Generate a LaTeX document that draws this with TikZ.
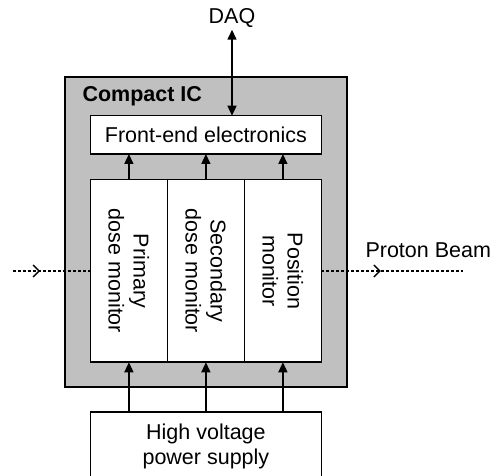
\documentclass[tikz,border=0pt]{standalone}
\usepackage{fontspec}
\setmainfont{Liberation Sans}
\usetikzlibrary{arrows.meta,positioning,decorations.markings}
\definecolor{icgray}{RGB}{192,192,192}

\begin{document}
\begin{tikzpicture}[x=1pt, y=-1pt, font=\fontsize{21.5}{25}\selectfont,
  box/.style={draw, line width=1.6pt, fill=white, align=center, inner sep=0pt, outer sep=0pt},
  mon/.style={box, minimum width=77pt, minimum height=182.6pt},
  arr/.style={-{Triangle[length=10pt, width=9pt]}, line width=1.5pt},
  dblarr/.style={{Triangle[length=10pt, width=9pt]}-{Triangle[length=10pt, width=9pt]}, line width=1.5pt},
  beam/.style={line width=1.2pt, dash pattern=on 3pt off 2pt, postaction={decorate},
    decoration={markings, mark=at position #1 with {\arrow[solid, line width=1.4pt]{Straight Barb[length=6pt, width=12pt]}}}}]
\useasboundingbox (0,0) rectangle (491,476);
% chamber housing
\node[box, fill=icgray, minimum width=282pt, minimum height=310pt] (ic) at (206,232) {};
\node[anchor=west, font=\fontsize{21.5}{25}\selectfont\bfseries] (title) at (79,96) {Compact IC};
% monitors
\node[mon] (prim) at (128.9,271) {};
\node[mon, right=0pt of prim] (sec) {};
\node[mon, right=0pt of sec] (pos) {};
\node[rotate=-90, align=center] (primtxt) at (prim) {Primary\\dose monitor};
\node[rotate=-90, align=center] (sectxt) at (sec) {Secondary\\dose monitor};
\node[rotate=-90, align=center] (postxt) at (pos) {Position\\monitor};
% electronics and supply
\node[box, minimum width=231pt, minimum height=38.3pt, above=25.7pt of sec] (fe) {Front-end electronics};
\node[box, minimum width=231pt, minimum height=68pt, below=50pt of sec] (hv) {High voltage\\power supply};
\node[inner sep=2pt] (daq) at (232,18) {DAQ};
\node[anchor=base west] (beamlbl) at (362,257.5) {Proton Beam};
\coordinate (beamin) at (13,271);
\coordinate (beamout) at (463,271);
% connections
\draw[dblarr] (daq.south) -- (daq.south |- fe.north);
\foreach \m in {prim,sec,pos} {
  \draw[arr] (\m.north) -- (\m.north |- fe.south);
  \draw[arr] (\m.south |- hv.north) -- (\m.south);
}
\draw[beam=0.35] (beamin) -- (prim.west);
\draw[beam=0.42] (pos.east) -- (beamout);
\end{tikzpicture}
\end{document}
